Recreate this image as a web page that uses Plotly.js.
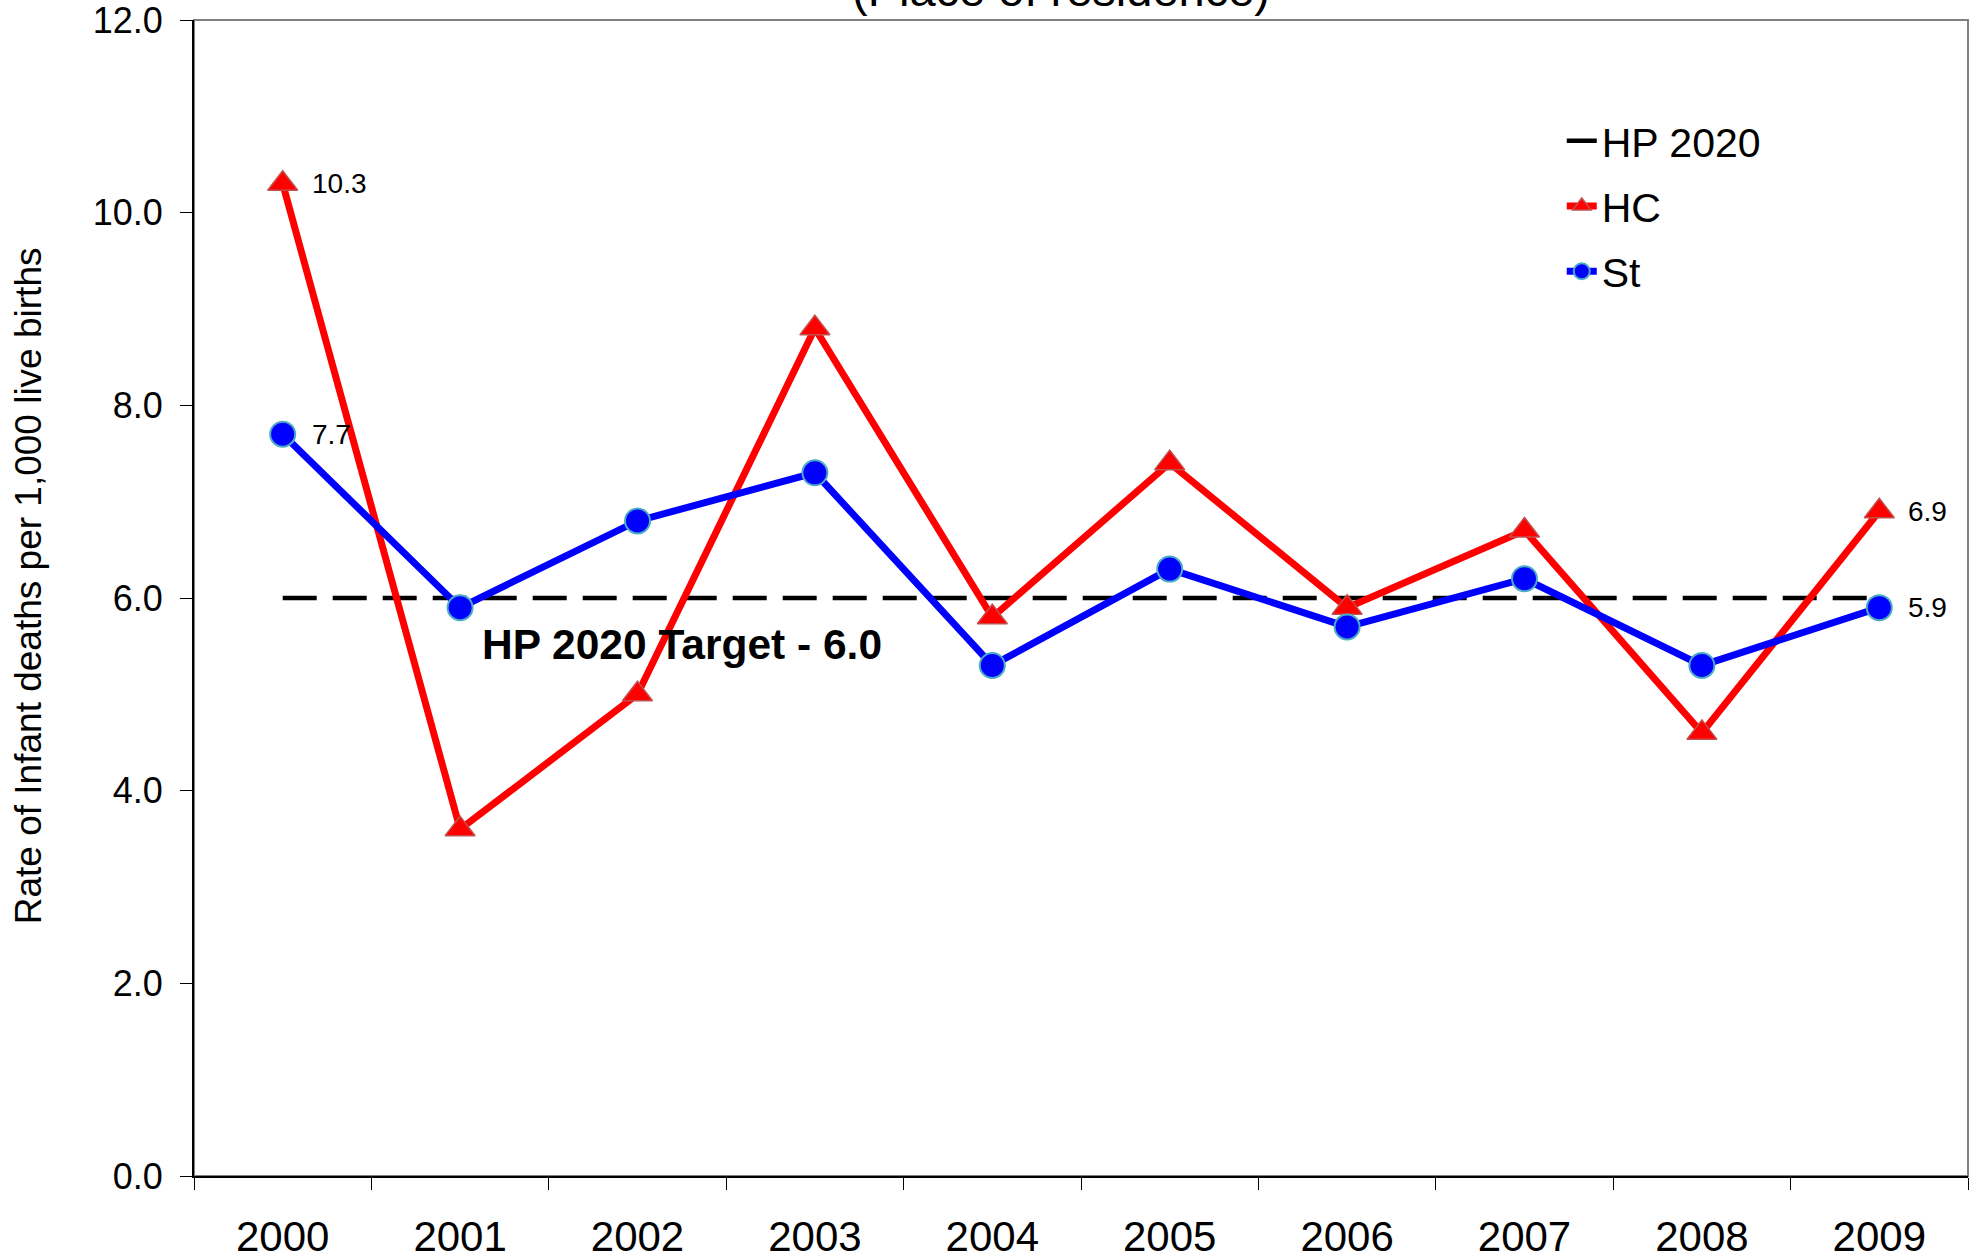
<!DOCTYPE html>
<html>
<head>
<meta charset="utf-8">
<script src="https://cdn.plot.ly/plotly-3.0.1.min.js"></script>
<style>html,body{margin:0;padding:0;background:#fff;}#chart{width:1980px;height:1260px;}</style>
</head>
<body>
<div id="chart"></div>
<script>
var years = ['2000','2001','2002','2003','2004','2005','2006','2007','2008','2009'];
var hcValues = [10.3, 3.6, 5.0, 8.8, 5.8, 7.4, 5.9, 6.7, 4.6, 6.9];
var stValues = [7.7, 5.9, 6.8, 7.3, 5.3, 6.3, 5.7, 6.2, 5.3, 5.9];
var hpTarget = [6.0, 6.0, 6.0, 6.0, 6.0, 6.0, 6.0, 6.0, 6.0, 6.0];
var seriesNames = ['HP 2020', 'HC', 'St'];
var yTickVals = [0, 2, 4, 6, 8, 10, 12];
var titleText = '(Place of residence)';
var yTitleText = 'Rate of Infant deaths per 1,000 live births';
var targetLabel = 'HP 2020 Target - 6.0';

var FONT = 'Liberation Sans, Arial, sans-serif';

var traces = [
  {
    x: years, y: hpTarget, name: seriesNames[0], type: 'scatter', mode: 'lines',
    line: {color: '#000000', width: 4.5, dash: '34px,16px'},
    legendgroup: 'a', hoverinfo: 'skip'
  },
  {
    x: years, y: hcValues, name: seriesNames[1], type: 'scatter', mode: 'lines+markers',
    line: {color: '#FF0000', width: 7},
    marker: {symbol: 'triangle-up', size: 26, color: '#FF0000', line: {color: '#C0504D', width: 1.5}},
    legendgroup: 'b'
  },
  {
    x: years, y: stValues, name: seriesNames[2], type: 'scatter', mode: 'lines+markers',
    line: {color: '#0000FF', width: 7},
    marker: {symbol: 'circle', size: 25, color: '#0000FF', line: {color: '#4BACC6', width: 2}},
    legendgroup: 'c'
  }
];

var annotations = [];
function valueLabel(series, idx) {
  annotations.push({
    x: idx, y: series[idx], xref: 'x', yref: 'y',
    text: series[idx].toFixed(1), showarrow: false,
    xanchor: 'left', yanchor: 'middle', xshift: 27,
    font: {family: FONT, size: 28, color: '#000'}
  });
}
valueLabel(hcValues, 0);
valueLabel(stValues, 0);
valueLabel(hcValues, years.length - 1);
valueLabel(stValues, years.length - 1);

annotations.push({
  x: 2.25, y: 5.52, xref: 'x', yref: 'y', text: '<b>' + targetLabel + '</b>',
  showarrow: false, xanchor: 'center', yanchor: 'middle',
  font: {family: FONT, size: 42.5, color: '#000'}
});
annotations.push({
  x: -0.0936, y: 0.511, xref: 'paper', yref: 'paper', text: yTitleText,
  textangle: -90, showarrow: false, xanchor: 'center', yanchor: 'middle',
  font: {family: FONT, size: 37, color: '#000'}
});
// chart title, mostly above the top edge as in the reference
annotations.push({
  x: (1061 - 194) / 1774, y: 1, xref: 'paper', yref: 'paper', text: titleText,
  showarrow: false, xanchor: 'center', yanchor: 'middle', yshift: 31,
  font: {family: FONT, size: 47, color: '#000'}
});

var layout = {
  width: 1980, height: 1260,
  paper_bgcolor: '#ffffff', plot_bgcolor: '#ffffff',
  margin: {l: 194, r: 12, t: 20, b: 84, pad: 0},
  font: {family: FONT, color: '#000'},
  xaxis: {
    type: 'category', range: [-0.5, 9.5], tickson: 'boundaries',
    ticks: 'outside', ticklen: 12, tickwidth: 1, tickcolor: '#000',
    showline: true, linecolor: '#000', linewidth: 2,
    showgrid: false, zeroline: false, fixedrange: true,
    tickfont: {family: FONT, size: 42, color: '#000'},
    ticklabelstandoff: 23, ticklabeloverflow: 'allow'
  },
  yaxis: {
    range: [0, 12], tickvals: yTickVals, tickformat: '.1f',
    ticks: 'outside', ticklen: 12, tickwidth: 1, tickcolor: '#000',
    showline: true, linecolor: '#000', linewidth: 2,
    showgrid: false, zeroline: false, fixedrange: true,
    tickfont: {family: FONT, size: 36, color: '#000'},
    ticklabelstandoff: 10, ticklabeloverflow: 'allow'
  },
  shapes: [{
    type: 'rect', xref: 'paper', yref: 'paper', x0: 0, x1: 1, y0: 0, y1: 1,
    line: {color: '#808080', width: 2}, fillcolor: 'rgba(0,0,0,0)', layer: 'below'
  }],
  legend: {
    x: 0.771, y: 0.9243, xanchor: 'left', yanchor: 'top',
    font: {family: FONT, size: 41, color: '#000'},
    bgcolor: 'rgba(255,255,255,0)', borderwidth: 0,
    traceorder: 'grouped', tracegroupgap: 9
  },
  showlegend: true,
  annotations: annotations
};

Plotly.newPlot('chart', traces, layout, {displayModeBar: false, staticPlot: true});
</script>
</body>
</html>
